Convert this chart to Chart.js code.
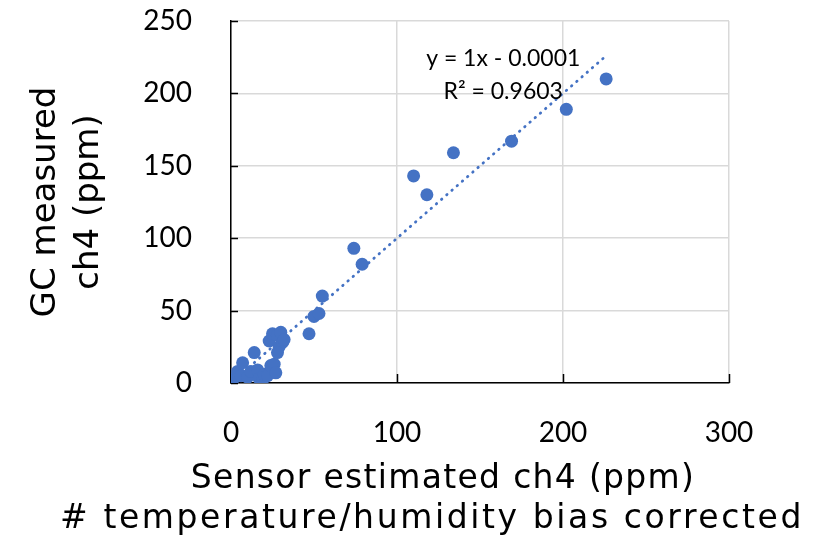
<!DOCTYPE html>
<html>
<head>
<meta charset="utf-8">
<script src="https://cdn.jsdelivr.net/npm/chart.js@4.4.0/dist/chart.umd.min.js"></script>
<style>
    html, body { margin: 0; padding: 0; background: #fff; }
    #wrap { width: 828px; height: 545px; }
</style>
</head>
<body>
<div id="wrap"><canvas id="myChart" width="828" height="545"></canvas></div>
<script>
// Datos (ppm)
const sensorCh4 = [1.5, 4, 6, 7, 10, 12, 14, 16, 17, 19, 20, 22, 24, 26, 23, 25, 28, 30, 29, 31, 32, 28, 27,
    47, 50, 53, 55, 74, 79, 110, 118, 134, 169, 202, 226];
const gcCh4 = [3, 8, 5, 14, 4, 8, 21, 9, 3, 2, 6, 5, 12, 13, 29, 34, 33, 35, 25, 28, 30, 21, 7,
    34, 46, 48, 60, 93, 82, 143, 130, 159, 167, 189, 210];
const xTicks = [0, 100, 200, 300];
const yTicks = [0, 50, 100, 150, 200, 250];

// Línea de tendencia (ecuación mostrada en la gráfica)
const fitSlope = 1;
const fitIntercept = -0.0001;
const fitLabel = ['y = 1x - 0.0001', 'R² = 0.9603'];
const xTitulo = ['Sensor estimated ch4 (ppm)', '# temperature/humidity bias corrected'];
const yTitulo = ['GC measured', 'ch4 (ppm)'];

const puntos = sensorCh4.map((v, i) => ({ x: v, y: gcCh4[i] }));
const xMin = Math.min(...sensorCh4), xMax = Math.max(...sensorCh4);
const tendencia = [xMin, xMax].map(v => ({ x: v, y: fitSlope * v + fitIntercept }));

/* marcas de los ejes hacia adentro + textos */
const marcasInternas = {
    id: 'marcasInternas',
    beforeDatasetsDraw(chart) {
        const { ctx, chartArea: a, scales: { x, y } } = chart;
        ctx.save();
        ctx.strokeStyle = '#000';
        ctx.lineWidth = 1.5;
        ctx.beginPath();
        yTicks.forEach(v => {
            const py = Math.round(y.getPixelForValue(v)) + 0.5;
            ctx.moveTo(a.left, py); ctx.lineTo(a.left + 7, py);
        });
        xTicks.forEach(v => {
            const px = Math.round(x.getPixelForValue(v)) + 0.5;
            ctx.moveTo(px, a.bottom); ctx.lineTo(px, a.bottom - 9);
        });
        ctx.stroke();
        ctx.restore();
    },
    afterDatasetsDraw(chart) {
        const { ctx, scales: { x, y } } = chart;
        ctx.save();
        ctx.font = '23px Lato';
        ctx.fillStyle = '#000';
        ctx.textAlign = 'center';
        ctx.textBaseline = 'middle';
        ctx.fillText(fitLabel[0], x.getPixelForValue(164), y.getPixelForValue(224));
        ctx.fillText(fitLabel[1], x.getPixelForValue(164), y.getPixelForValue(201.5));
        // título del eje x (sin recorte de ancho)
        ctx.font = '33px "DejaVu Sans"';
        ctx.letterSpacing = '1.3px';
        ctx.fillText(xTitulo[0], 443, 479);
        ctx.letterSpacing = '2.6px';
        ctx.fillText(xTitulo[1], 432, 519);
        ctx.restore();
    }
};

const ctx = document.getElementById('myChart');
new Chart(ctx, {
    type: 'scatter',
    data: {
        datasets: [{
            label: 'GC vs sensor',
            data: puntos,
            backgroundColor: '#4472C4',
            borderColor: '#4472C4',
            pointRadius: 6.5,
            pointBorderWidth: 0
        },
        {
            type: 'line',
            label: 'Tendencia',
            data: tendencia,
            borderColor: '#4472C4',
            borderWidth: 2.8,
            borderDash: [0.5, 6.4],
            borderCapStyle: 'round',
            pointRadius: 0,
            fill: false
        }]
    },
    options: {
        responsive: false,
        animation: false,
        devicePixelRatio: 1,
        layout: { padding: { top: 21, right: 99, left: 0, bottom: 0 } },
        plugins: {
            legend: { display: false },
            tooltip: { enabled: false }
        },
        scales: {
            x: {
                type: 'linear',
                min: 0, max: 300,
                afterBuildTicks: s => { s.ticks = xTicks.map(v => ({ value: v })); },
                afterFit: s => { s.height = 162; s.paddingRight = 20; },
                grid: { color: '#d9d9d9', lineWidth: 1.5, drawTicks: false },
                border: { color: '#000', width: 1.5 },
                ticks: { padding: 33, color: '#000', font: { family: 'Lato', size: 28 } },
                title: { display: false }
            },
            y: {
                type: 'linear',
                min: 0, max: 250,
                afterBuildTicks: s => { s.ticks = yTicks.map(v => ({ value: v })); },
                afterFit: s => { s.width = 231; s.paddingTop = 17; s.paddingBottom = 17; },
                grid: { color: '#d9d9d9', lineWidth: 1.5, drawTicks: false },
                border: { color: '#000', width: 1.5 },
                ticks: { padding: 39, color: '#000', font: { family: 'Lato', size: 28 } },
                title: {
                    display: true,
                    text: yTitulo,
                    color: '#000',
                    font: { family: 'DejaVu Sans', size: 34, lineHeight: '43px' },
                    padding: { top: 25, bottom: 0 }
                }
            }
        }
    },
    plugins: [marcasInternas]
});
</script>
</body>
</html>
